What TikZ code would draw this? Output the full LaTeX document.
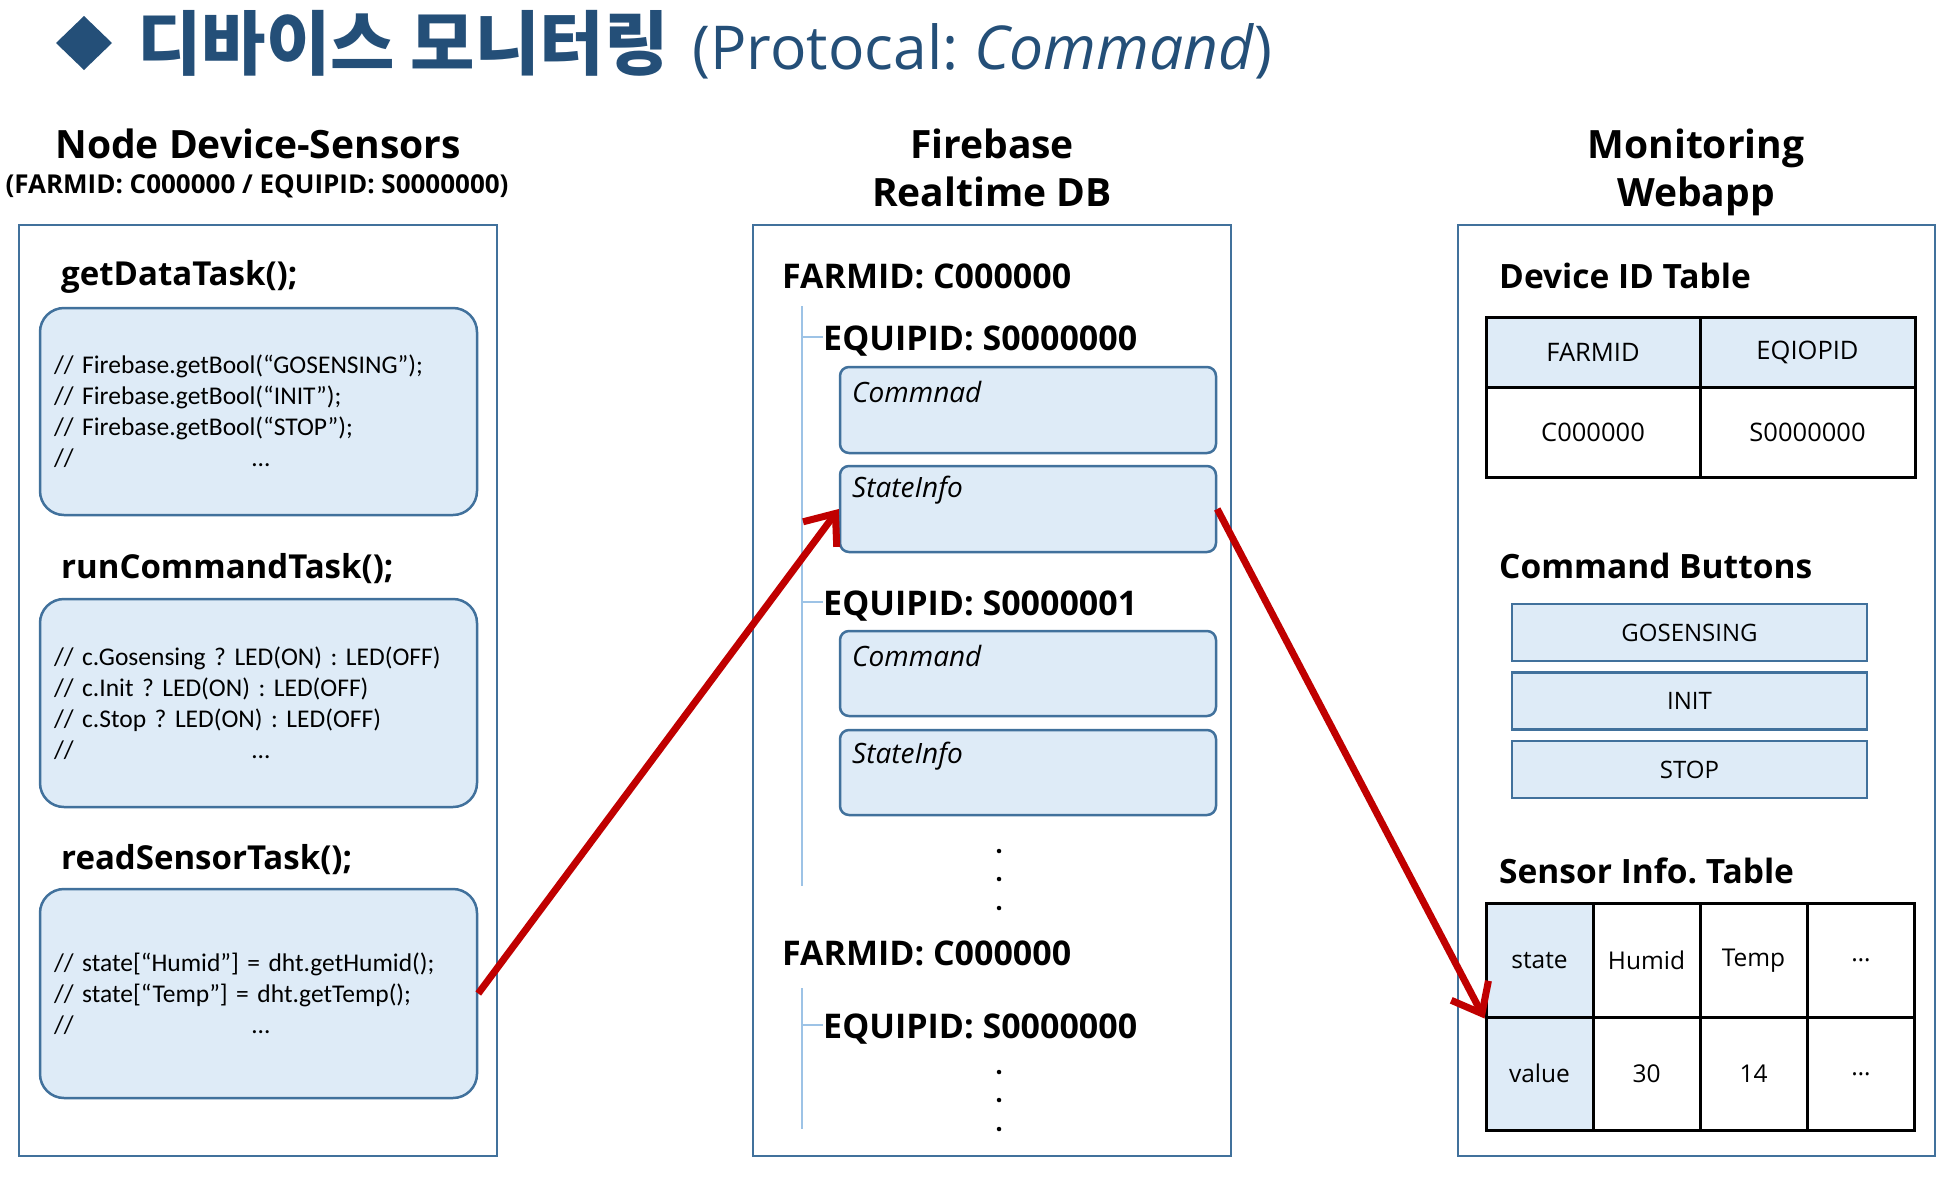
\documentclass[tikz,border=0pt]{standalone}
\usepackage{fontspec}
\setmainfont{Open Sans}
\newfontfamily\kr{Noto Sans CJK KR}
\newfontfamily\code{Carlito}
\usetikzlibrary{arrows.meta}
\frenchspacing
\definecolor{titleblue}{RGB}{36,79,120}
\definecolor{panelblue}{RGB}{65,113,156}
\definecolor{boxfill}{RGB}{222,235,247}
\definecolor{treeblue}{RGB}{157,195,230}
\definecolor{arrowred}{RGB}{192,0,0}
\tikzset{
  panel/.style={draw=panelblue, line width=2.5pt, inner sep=0pt},
  codebox/.style={draw=panelblue, fill=boxfill, line width=2.5pt, rounded corners=24pt,
    inner sep=0pt, align=left, font=\code\fontsize{25.5}{31}\selectfont},
  dbbox/.style={draw=panelblue, fill=boxfill, line width=2.5pt, rounded corners=9pt, inner sep=0pt},
  btn/.style={draw=panelblue, fill=boxfill, line width=2.5pt, inner sep=0pt,
    minimum width=355pt, minimum height=57pt, font=\fontsize{24}{28}\selectfont},
  colhead/.style={font=\bfseries\fontsize{39}{46}\selectfont, anchor=base, inner sep=0pt},
  colsub/.style={font=\bfseries\fontsize{26}{30}\selectfont, anchor=base, inner sep=0pt},
  task/.style={font=\bfseries\fontsize{33}{38}\selectfont, anchor=base west, inner sep=0pt},
  dbkey/.style={font=\bfseries\fontsize{34}{40}\selectfont, anchor=base west, inner sep=0pt},
  wtitle/.style={font=\bfseries\fontsize{33.5}{38}\selectfont, anchor=base west, inner sep=0pt},
  dblabel/.style={font=\itshape\fontsize{28}{34}\selectfont, anchor=base west, inner sep=0pt},
  tree/.style={draw=treeblue, line width=1.5pt},
  dot/.style={fill=black, circle, inner sep=0pt, minimum size=4.5pt},
  cell/.style={draw=black, line width=3pt, inner sep=0pt, font=\fontsize{25.5}{30}\selectfont},
  scell/.style={draw=black, line width=3pt, inner sep=0pt, minimum width=107pt,
    minimum height=113.5pt, font=\fontsize{24.5}{28}\selectfont},
  flow/.style={draw=arrowred, line width=7pt, -{Straight Barb[length=26pt,width=42pt]}},
}
\begin{document}
\begin{tikzpicture}[x=1pt,y=-1pt]
\useasboundingbox (0,0) rectangle (1956,1178);
\fill[white] (0,0) rectangle (1956,1178);

% title
\fill[titleblue] (84,16) -- (112,43) -- (84,70) -- (56,43) -- cycle;
\node[anchor=base west, inner sep=0pt, text=titleblue] (title) at (137,69)
  {{\kr\bfseries\fontsize{70}{76}\selectfont 디바이스 모니터링}\hspace{24pt}{\fontsize{60.5}{70}\selectfont (Protocal: \textit{Command})}};

% column headers
\node[colhead] (h1) at (258,158) {Node Device-Sensors};
\node[colsub] (h1s) at (257,193) {(FARMID: C000000 / EQUIPID: S0000000)};
\node[colhead] (h2) at (992,158) {Firebase};
\node[colhead] (h2b) at (992,206) {Realtime DB};
\node[colhead] (h3) at (1696,158) {Monitoring};
\node[colhead] (h3b) at (1696,206) {Webapp};

% panels
\node[panel, minimum width=478pt, minimum height=931pt] (P1) at (258,690.5) {};
\node[panel, minimum width=478pt, minimum height=931pt] (P2) at (992,690.5) {};
\node[panel, minimum width=477pt, minimum height=931pt] (P3) at (1696.5,690.5) {};

% left panel
\node[task] (t1) at (61,285) {getDataTask();};
\node[codebox, minimum width=437pt, minimum height=207pt, text width=409pt] (b1) at (258.5,411.5)
  {// Firebase.getBool(“GOSENSING”);\\
   // Firebase.getBool(“INIT”);\\
   // Firebase.getBool(“STOP”);\\
   \makebox[198pt][l]{//}…};
\node[task] (t2) at (61,578) {runCommandTask();};
\node[codebox, minimum width=437pt, minimum height=208pt, text width=409pt] (b2) at (258.5,703)
  {// c.Gosensing ? LED(ON) : LED(OFF)\\
   // c.Init ? LED(ON) : LED(OFF)\\
   // c.Stop ? LED(ON) : LED(OFF)\\
   \makebox[198pt][l]{//}…};
\node[task] (t3) at (61,869) {readSensorTask();};
\node[codebox, minimum width=437pt, minimum height=209pt, text width=409pt] (b3) at (258.5,993.5)
  {// state[“Humid”] = dht.getHumid();\\
   // state[“Temp”] = dht.getTemp();\\
   \makebox[198pt][l]{//}…};

% middle panel
\node[dbkey] (f1) at (782,288) {FARMID: C000000};
\coordinate (tr1top) at (802,306);
\coordinate (tr1bot) at (802,886);
\draw[tree] (tr1top) -- (tr1bot);
\node[dbkey] (e1) at (823,350) {EQUIPID: S0000000};
\draw[tree] (802,337) -- (e1.west |- 802,337);
\node[dbbox, minimum width=376pt, minimum height=86pt] (c1) at (1028,410) {};
\node[dblabel] (c1l) at (852,402) {Commnad};
\node[dbbox, minimum width=376pt, minimum height=86pt] (s1) at (1028,509) {};
\node[dblabel] (s1l) at (852,497) {StateInfo};
\node[dbkey] (e2) at (823,615) {EQUIPID: S0000001};
\draw[tree] (802,602) -- (e2.west |- 802,602);
\node[dbbox, minimum width=376pt, minimum height=85pt] (c2) at (1028,673.5) {};
\node[dblabel] (c2l) at (852,666) {Command};
\node[dbbox, minimum width=376pt, minimum height=85pt] (s2) at (1028,772.5) {};
\node[dblabel] (s2l) at (852,763) {StateInfo};
\node[dot] (d1) at (999,851) {};
\node[dot] (d2) at (999,879) {};
\node[dot] (d3) at (999,908) {};
\node[dbkey] (f2) at (782,965) {FARMID: C000000};
\coordinate (tr2top) at (802,988);
\coordinate (tr2bot) at (802,1129);
\draw[tree] (tr2top) -- (tr2bot);
\node[dbkey] (e3) at (823,1038) {EQUIPID: S0000000};
\draw[tree] (802,1025) -- (e3.west |- 802,1025);
\node[dot] (d4) at (999,1072) {};
\node[dot] (d5) at (999,1100) {};
\node[dot] (d6) at (999,1129) {};

% right panel
\node[wtitle] (dt) at (1499,288) {Device ID Table};
\node[cell, fill=boxfill, minimum width=214pt, minimum height=70pt] (ta) at (1593,352) {FARMID};
\node[cell, fill=boxfill, minimum width=215pt, minimum height=70pt] (tb) at (1807.5,352) {EQIOPID};
\node[cell, minimum width=214pt, minimum height=90pt] (tc) at (1593,432) {C000000};
\node[cell, minimum width=215pt, minimum height=90pt] (td) at (1807.5,432) {S0000000};

\node[wtitle] (cb) at (1499,578) {Command Buttons};
\node[btn] (g1) at (1689.5,632.5) {GOSENSING};
\node[btn] (g2) at (1689.5,701) {INIT};
\node[btn] (g3) at (1689.5,769.5) {STOP};

\node[wtitle] (si) at (1499,883) {Sensor Info. Table};
\node[scell, fill=boxfill] (st) at (1539.5,960.25) {state};
\node[scell] (sh) at (1646.5,960.25) {Humid};
\node[scell] (sp) at (1753.5,960.25) {Temp};
\node[scell] (sx) at (1861,960.25) {…};
\node[scell, fill=boxfill] (sv) at (1539.5,1073.75) {value};
\node[scell] (s30) at (1646.5,1073.75) {30};
\node[scell] (s14) at (1753.5,1073.75) {14};
\node[scell] (sy) at (1861,1073.75) {…};

% arrows
\draw[flow] (b3.east) -- (s1.west);
\draw[flow] (s1.east) -- (st.south west);
\end{tikzpicture}
\end{document}
